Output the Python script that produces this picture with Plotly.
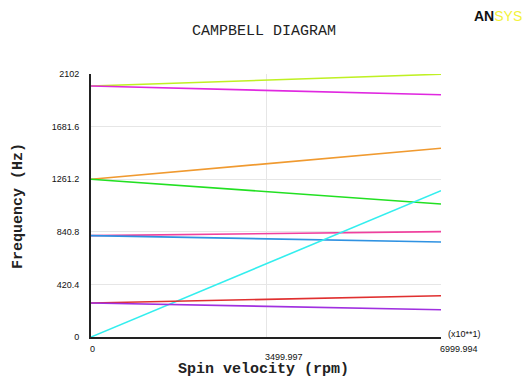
import plotly.graph_objects as go

spin = [0, 6999.994]
mode_names = ["M1", "M2", "M3", "M4", "M5", "M6", "M7", "M8", "M9"]
mode_start = [2006, 2006, 1261, 1261, 810, 810, 0, 272, 272]
mode_end = [2100, 1936, 1508, 1063, 842, 759, 1169, 330, 218]
mode_colors = ["#bff023", "#e028e0", "#f09a30", "#22e022", "#f0409e",
               "#2f92e2", "#33eeee", "#e03030", "#a030e0"]

y_ticks = [0, 420.4, 840.8, 1261.2, 1681.6, 2102]
y_tick_labels = ["0", "420.4", "840.8", "1261.2", "1681.6", "2102"]
x_ticks = [0, 3499.997, 6999.994]
x_tick_labels = ["0", "3499.997", "6999.994"]
x_tick_drop = [12, 20, 12]

fig = go.Figure()
for name, s, e, c in zip(mode_names, mode_start, mode_end, mode_colors):
    fig.add_trace(go.Scatter(x=spin, y=[s, e], mode="lines", name=name,
                             line=dict(color=c, width=1.6), showlegend=False,
                             hoverinfo="skip"))

mono = "Liberation Mono, Courier New, monospace"
narrow = "Liberation Sans Narrow, Arial"
W, H = 526, 378
L, R, T, B = 91, 85, 74, 41
pw, ph = W - L - R, H - T - B
def px(xp): return (xp - L) / pw
def py(yp): return (H - B - yp) / ph

ann = []
for xv, lab, d in zip(x_ticks, x_tick_labels, x_tick_drop):
    ann.append(dict(x=xv, y=0, xref="x", yref="y", text=lab, showarrow=False,
                    xanchor="left", yanchor="middle", xshift=-3, yshift=-d,
                    font=dict(family=narrow, size=9, color="#111")))
ann += [
    dict(x=px(264), y=py(32), xref="paper", yref="paper", text="CAMPBELL DIAGRAM",
         showarrow=False, xanchor="center", yanchor="middle",
         font=dict(family=mono, size=15, color="#222")),
    dict(x=px(263), y=py(369), xref="paper", yref="paper", text="<b>Spin velocity (rpm)</b>",
         showarrow=False, xanchor="center", yanchor="middle",
         font=dict(family=mono, size=15, color="#222")),
    dict(x=px(18), y=py(206), xref="paper", yref="paper", text="<b>Frequency (Hz)</b>",
         showarrow=False, xanchor="center", yanchor="middle", textangle=-90,
         font=dict(family=mono, size=15, color="#222")),
    dict(x=px(446), y=py(334), xref="paper", yref="paper", text="(x10**1)",
         showarrow=False, xanchor="left", yanchor="middle",
         font=dict(family=narrow, size=9, color="#111")),
    dict(x=px(524), y=py(16), xref="paper", yref="paper",
         text="<b>AN</b><span style='color:#f2f23a'>SYS</span>",
         showarrow=False, xanchor="right", yanchor="middle",
         font=dict(family="Liberation Sans Narrow, Arial", size=14, color="#111")),
]

fig.update_layout(
    width=W, height=H,
    margin=dict(l=L, r=R, t=T, b=B, pad=0),
    paper_bgcolor="white", plot_bgcolor="white",
    annotations=ann,
    xaxis=dict(range=[0, 6999.994], tickvals=x_ticks, showticklabels=False,
               showgrid=True, gridcolor="#e6e6e6", gridwidth=1, zeroline=False,
               showline=True, linecolor="#222", linewidth=2, ticks=""),
    yaxis=dict(range=[0, 2102], tickvals=y_ticks, ticktext=y_tick_labels,
               showgrid=True, gridcolor="#e6e6e6", gridwidth=1, zeroline=False,
               showline=True, linecolor="#222", linewidth=2, ticks="",
               ticklabelstandoff=8,
               tickfont=dict(family=narrow, size=9, color="#111")),
)
fig.write_html("out.html", config={"displayModeBar": False},
               post_script="document.body.style.margin='0';document.body.style.overflow='hidden';")
